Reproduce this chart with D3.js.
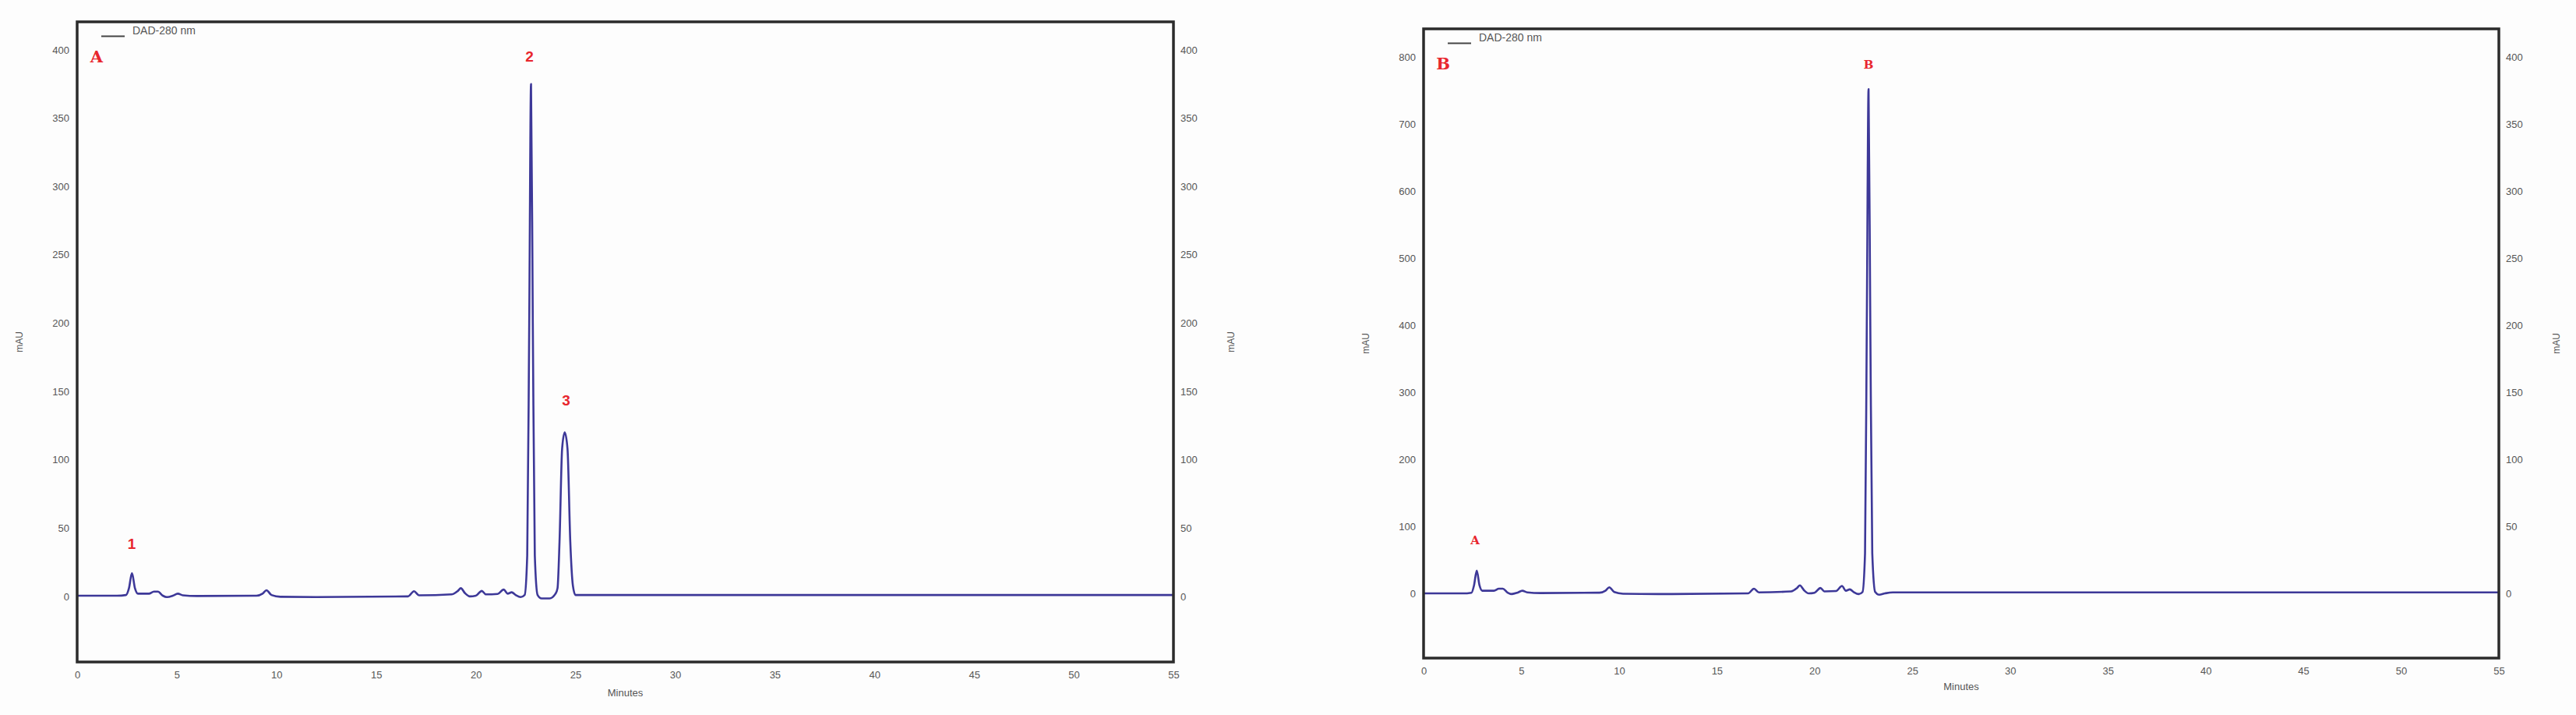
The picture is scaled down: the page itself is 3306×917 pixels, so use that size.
<!DOCTYPE html>
<html><head><meta charset="utf-8">
<script src="https://cdn.jsdelivr.net/npm/d3@7"></script>
<style>
html,body{margin:0;padding:0;background:#fdfdfd;}
svg{display:block;}
</style></head>
<body>
<svg id="chart" width="3306" height="917"></svg>
<script>
// ---------- data ----------
const minuteTicks = [0,5,10,15,20,25,30,35,40,45,50,55];
const ticksA_left  = [0,50,100,150,200,250,300,350,400];
const ticksA_right = [0,50,100,150,200,250,300,350,400];
const ticksB_left  = [0,100,200,300,400,500,600,700,800];
const ticksB_right = [0,50,100,150,200,250,300,350,400];

const timeA = [0,2.0,2.45,2.6,2.75,2.9,3.05,3.6,3.85,4.05,4.3,4.5,4.8,5.05,5.3,6.0,9.0,9.3,9.5,9.75,10.2,12,16.6,16.9,17.15,18.8,19.1,19.25,19.45,19.7,20.0,20.3,20.5,21.1,21.4,21.6,21.8,22.0,22.25,22.45,22.58,22.68,22.77,22.86,22.96,23.1,23.3,23.7,24.0,24.1,24.2,24.33,24.46,24.6,24.74,24.87,25.0,26,55];
const signalA = [0.5,0.5,1,6,17,6,2,2,3.5,3.5,0.5,-0.5,0.5,2,0.8,0.3,0.5,2,4.5,1,-0.3,-0.5,0,3.8,0.8,1.5,4,6,2.5,0,0.5,4,1.5,1.8,5,2,3,1,-0.5,1,30,200,375,200,30,1,-1.5,-1.5,2,6,40,108,120,108,40,8,1,1,1];

const timeB = [0,2.0,2.45,2.58,2.72,2.86,3.0,3.6,3.85,4.05,4.3,4.5,4.8,5.05,5.3,6.0,9.0,9.3,9.5,9.75,10.2,12,16.6,16.9,17.15,18.8,19.1,19.25,19.45,19.7,20.0,20.3,20.5,21.1,21.4,21.6,21.8,22.0,22.25,22.45,22.58,22.67,22.76,22.85,22.95,23.1,23.3,23.6,24,55];
const signalB = [0,0,1,12,34,12,4,4,7,7,1,-1,1,4,1.5,0.5,1,4,9,2,-0.5,-1,0,7,1.5,3,8,12,5,0,1,8,3,3.5,11,4,6,2,-1,2,60,400,752,400,60,2,-2,0,1.5,1.5];

const peakLabelsA = ["1","2","3"];
const peakTimesA  = [2.74,22.69,24.53];
const peakLabelYA = [34.8,391.5,140];
const peakLabelsB = ["A","B"];
const peakTimesB  = [2.63,22.76];
const peakLabelYB = [73,782.5];

const legendText = "DAD-280 nm";
const panelLetters = ["A","B"];

// ---------- drawing ----------
const svg = d3.select("#chart");
const lineColor = "#3d3898";
const red = "#e8262d";

function panel(cfg){
  const g = svg.append("g");
  const x = d3.scaleLinear().domain([0,55]).range([cfg.left, cfg.right]);
  const yL = d3.scaleLinear().domain(cfg.yDomL).range([cfg.bottom, cfg.top]);
  const yR = d3.scaleLinear().domain(cfg.yDomR).range([cfg.bottom, cfg.top]);

  const ax = g.append("g").attr("transform",`translate(0,${cfg.bottom})`)
    .call(d3.axisBottom(x).tickValues(minuteTicks).tickSize(0).tickPadding(12).tickFormat(d3.format("d")));
  ax.select(".domain").remove();
  ax.selectAll("text").attr("font-family","Liberation Sans, Arial, sans-serif").attr("font-size",13).attr("fill","#555");

  const al = g.append("g").attr("transform",`translate(${cfg.left},0)`)
    .call(d3.axisLeft(yL).tickValues(cfg.ticksL).tickSize(0).tickPadding(10).tickFormat(d3.format("d")));
  al.select(".domain").remove();
  al.selectAll("text").attr("font-family","Liberation Sans, Arial, sans-serif").attr("font-size",13).attr("fill","#555");

  const ar = g.append("g").attr("transform",`translate(${cfg.right},0)`)
    .call(d3.axisRight(yR).tickValues(cfg.ticksR).tickSize(0).tickPadding(9).tickFormat(d3.format("d")));
  ar.select(".domain").remove();
  ar.selectAll("text").attr("font-family","Liberation Sans, Arial, sans-serif").attr("font-size",13).attr("fill","#555");

  const midY = (cfg.top+cfg.bottom)/2;
  g.append("text").attr("transform",`translate(${cfg.left-70},${midY}) rotate(-90)`)
    .attr("text-anchor","middle").attr("font-family","Liberation Sans, Arial, sans-serif")
    .attr("font-size",12).attr("fill","#555").text("mAU");
  g.append("text").attr("transform",`translate(${cfg.right+78},${midY}) rotate(-90)`)
    .attr("text-anchor","middle").attr("font-family","Liberation Sans, Arial, sans-serif")
    .attr("font-size",12).attr("fill","#555").text("mAU");
  g.append("text").attr("x",(cfg.left+cfg.right)/2).attr("y",cfg.bottom+cfg.titleOff)
    .attr("text-anchor","middle").attr("font-family","Liberation Sans, Arial, sans-serif")
    .attr("font-size",13).attr("fill","#555").text("Minutes");

  const pts = cfg.t.map((t,i)=>[t,cfg.v[i]]);
  const line = d3.line().x(d=>x(d[0])).y(d=>yL(d[1])).curve(d3.curveMonotoneX);
  g.append("path").datum(pts).attr("d",line).attr("fill","none")
    .attr("stroke",lineColor).attr("stroke-width",2.6).attr("stroke-linejoin","round");

  g.append("rect").attr("x",cfg.left).attr("y",cfg.top)
    .attr("width",cfg.right-cfg.left).attr("height",cfg.bottom-cfg.top)
    .attr("fill","none").attr("stroke","#2b2b2b").attr("stroke-width",3.5);

  g.append("line").attr("x1",cfg.left+31).attr("x2",cfg.left+61)
    .attr("y1",cfg.top+18.5).attr("y2",cfg.top+18.5).attr("stroke","#444").attr("stroke-width",2);
  g.append("text").attr("x",cfg.left+71).attr("y",cfg.top+15.5)
    .attr("font-family","Liberation Sans, Arial, sans-serif").attr("font-size",14)
    .attr("fill","#555").text(legendText);

  g.append("text").attr("x",cfg.left+25).attr("y",cfg.top+52)
    .attr("text-anchor","middle").attr("font-family","DejaVu Serif, serif").attr("font-weight","bold")
    .attr("font-size",21).attr("fill",red).text(cfg.letter);

  cfg.labels.forEach((lab,i)=>{
    g.append("text").attr("x",x(cfg.labT[i])).attr("y",yL(cfg.labY[i]))
      .attr("text-anchor","middle")
      .attr("font-family",cfg.labSerif?"DejaVu Serif, serif":"Liberation Sans, Arial, sans-serif")
      .attr("font-weight","bold").attr("font-size",cfg.labSize).attr("fill",red).text(lab);
  });
}

panel({left:99,right:1506,top:28,bottom:849,yDomL:[-48,420.5],yDomR:[-48,420.5],
  ticksL:ticksA_left,ticksR:ticksA_right,t:timeA,v:signalA,letter:panelLetters[0],titleOff:44,
  labels:peakLabelsA,labT:peakTimesA,labY:peakLabelYA,labSerif:false,labSize:19});

panel({left:1827,right:3207,top:37,bottom:844,yDomL:[-96.5,842],yDomR:[-48.25,421],
  ticksL:ticksB_left,ticksR:ticksB_right,t:timeB,v:signalB,letter:panelLetters[1],titleOff:41,
  labels:peakLabelsB,labT:peakTimesB,labY:peakLabelYB,labSerif:true,labSize:15});
</script>
</body></html>
